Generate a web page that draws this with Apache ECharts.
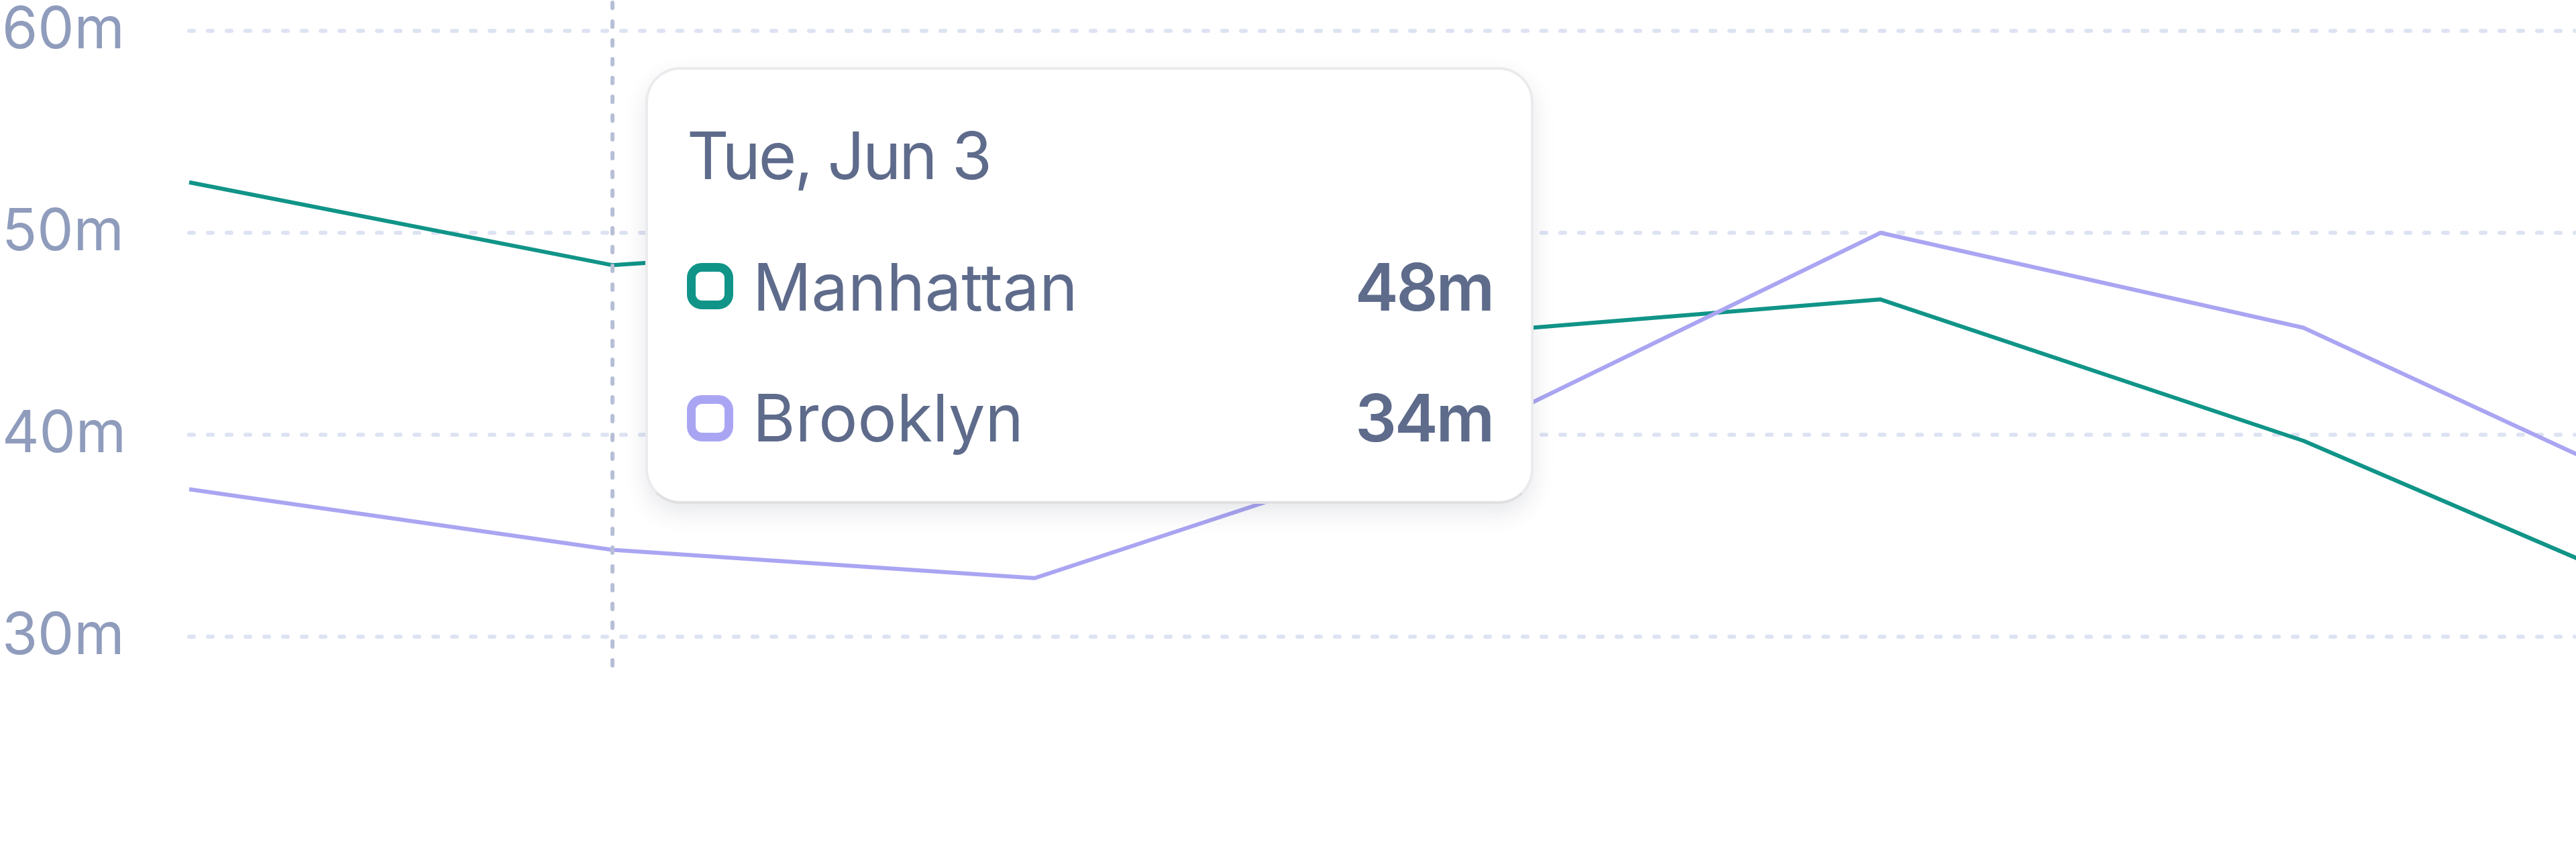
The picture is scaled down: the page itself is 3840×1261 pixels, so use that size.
<!DOCTYPE html>
<html>
<head>
<meta charset="utf-8">
<script src="https://cdn.jsdelivr.net/npm/echarts@6/dist/echarts.min.js"></script>
<style>
  html, body { margin: 0; padding: 0; background: #ffffff; }
  #chart { width: 3840px; height: 1261px; }
</style>
</head>
<body>
<div id="chart"></div>
<script>
// ---- data ----
const categories = ['Mon, Jun 2', 'Tue, Jun 3', 'Wed, Jun 4', 'Thu, Jun 5', 'Fri, Jun 6', 'Sat, Jun 7', 'Sun, Jun 8'];
const manhattan = [52.5, 48.4, 49.8, 45.0, 46.7, 39.7, 30.7];
const brooklyn = [37.3, 34.3, 32.9, 39.8, 50.0, 45.3, 35.6];
const seriesNames = ['Manhattan', 'Brooklyn'];
const yTickValues = [30, 40, 50, 60];
const activeIndex = 1;

const colors = ['#119488', '#aaa5f2'];
const FONT = 'Inter, "Noto Sans", sans-serif';

const chart = echarts.init(document.getElementById('chart'));

function tooltipHtml(params) {
  const idx = params[0].dataIndex;
  const title = categories[idx];
  const rows = [manhattan, brooklyn].map(function (arr, i) {
    return { name: seriesNames[i], value: Math.round(arr[idx]) + 'm', color: colors[i] };
  });
  let html = '<div style="position:relative;box-sizing:border-box;width:1324px;height:651px;background:#fff;' +
    'border:4px solid #ebebee;border-bottom-color:#e0e0e3;border-radius:52px;box-shadow:0 14px 34px rgba(40,50,70,0.11);' +
    'font-family:' + FONT.replace(/"/g, "'") + ';color:#5e6b8b;white-space:nowrap;">';
  html += '<div style="position:absolute;left:58px;top:79px;font-size:97px;line-height:1;font-weight:400;letter-spacing:-3px;">' + title + '</div>';
  const rowTops = [275, 470];
  const markerTops = [288, 485];
  rows.forEach(function (r, i) {
    html += '<div style="position:absolute;left:58px;top:' + markerTops[i] + 'px;width:69px;height:69px;box-sizing:border-box;' +
      'border:13px solid ' + r.color + ';border-radius:22px;"></div>';
    html += '<div style="position:absolute;left:156px;top:' + rowTops[i] + 'px;font-size:97px;line-height:1;font-weight:400;">' + r.name + '</div>';
    html += '<div style="position:absolute;right:57px;top:' + rowTops[i] + 'px;font-size:97px;line-height:1;font-weight:600;letter-spacing:-3px;">' + r.value + '</div>';
  });
  html += '</div>';
  return html;
}

const option = {
  animation: false,
  backgroundColor: '#ffffff',
  grid: { left: 282, width: 3782, top: 0, bottom: 269, containLabel: false, outerBoundsMode: 'none' },
  xAxis: {
    type: 'category',
    data: categories,
    boundaryGap: false,
    axisLine: { show: false },
    axisTick: { show: false },
    axisLabel: { show: false },
    splitLine: { show: false }
  },
  yAxis: {
    type: 'value',
    min: 28.57,
    max: 61.53,
    splitNumber: 3,
    minInterval: 10,
    maxInterval: 10,
    axisLine: { show: false },
    axisTick: { show: false },
    axisLabel: {
      showMinLabel: false,
      showMaxLabel: false,
      align: 'left',
      margin: 279,
      color: '#8f9cbc',
      fontSize: 86,
      fontFamily: FONT,
      padding: [0, 0, 11, 0],
      formatter: function (v) {
        return yTickValues.indexOf(Math.round(v)) >= 0 && Math.abs(v - Math.round(v)) < 1e-6 ? v + 'm' : '';
      }
    },
    splitLine: {
      show: true,
      showMinLine: false,
      showMaxLine: false,
      lineStyle: { color: '#dde3f2', width: 6, type: [7, 21], cap: 'round' }
    }
  },
  tooltip: {
    trigger: 'axis',
    triggerOn: 'none',
    alwaysShowContent: true,
    transitionDuration: 0,
    position: [962, 100],
    padding: 0,
    borderWidth: 0,
    backgroundColor: 'transparent',
    extraCssText: 'box-shadow:none;border-radius:0;',
    axisPointer: {
      type: 'line',
      lineStyle: { color: '#b6bfd6', width: 6, type: [8, 20], cap: 'round' },
      label: { show: false }
    },
    formatter: tooltipHtml
  },
  series: [
    {
      name: seriesNames[0],
      type: 'line',
      data: manhattan,
      symbol: 'none',
      smooth: false,
      lineStyle: { color: colors[0], width: 6 },
      itemStyle: { color: colors[0] },
      emphasis: { disabled: true }
    },
    {
      name: seriesNames[1],
      type: 'line',
      data: brooklyn,
      symbol: 'none',
      smooth: false,
      lineStyle: { color: colors[1], width: 6 },
      itemStyle: { color: colors[1] },
      emphasis: { disabled: true }
    }
  ]
};

chart.setOption(option);
chart.dispatchAction({ type: 'showTip', seriesIndex: 0, dataIndex: activeIndex });
</script>
</body>
</html>
